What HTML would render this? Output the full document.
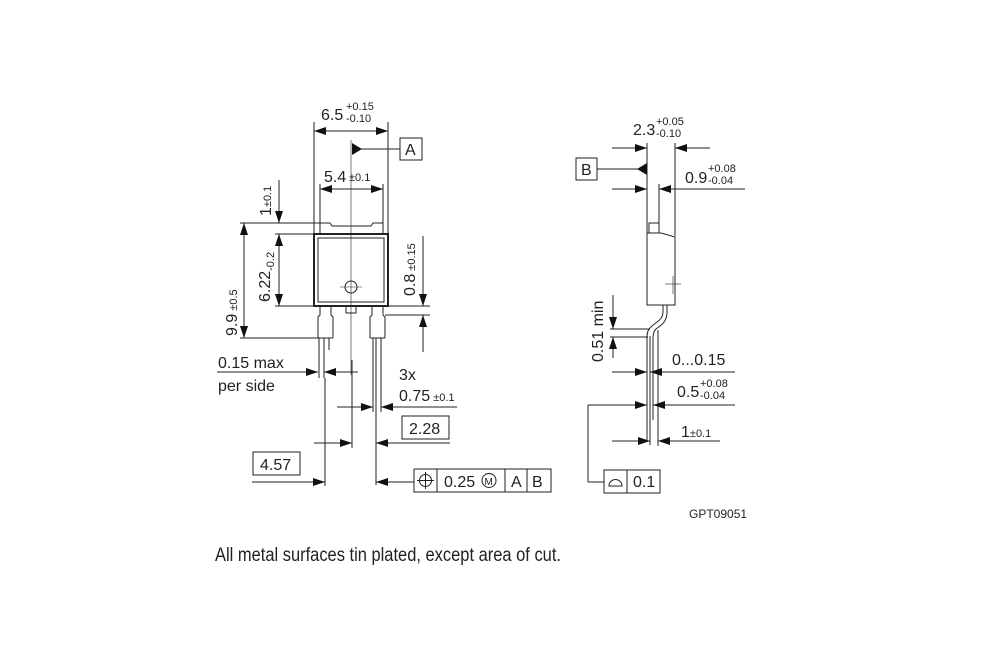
<!DOCTYPE html>
<html><head><meta charset="utf-8"><style>
html,body{margin:0;padding:0;background:#fff;}
svg{display:block;}
text{font-family:"Liberation Sans",Arial,sans-serif;fill:#222;}
</style></head><body>
<svg width="1000" height="646" viewBox="0 0 1000 646" xmlns="http://www.w3.org/2000/svg">
<defs>
<marker id="a" viewBox="0 0 12 8" refX="12" refY="4" markerWidth="12" markerHeight="8" markerUnits="userSpaceOnUse" orient="auto"><path d="M0,0 L12,4 L0,8 Z" fill="#111"/></marker>
</defs>
<g stroke="#222" stroke-width="1" fill="none">
<rect x="314" y="234" width="74" height="72" stroke-width="2"/>
<rect x="318" y="238" width="66" height="64"/>
<path d="M320,234 L320,223 L330,223 L332,226 L371,226 L373,223 L383,223 L383,234"/>
<circle cx="351" cy="287" r="6"/>
<line x1="340" y1="287" x2="362" y2="287" stroke-width="0.6"/>
<line x1="351" y1="140" x2="351" y2="375" stroke-width="0.6"/>
<path d="M320,306 L320,315 L318,317 L318,338 M331,306 L331,315 L333,317 L333,338 M318,338 L333,338"/>
<path d="M319,338 L319,378 M324,338 L324,378 M329,338 L329,350"/>
<path d="M372,306 L372,315 L370,317 L370,338 M383,306 L383,315 L385,317 L385,338 M370,338 L385,338"/>
<path d="M373,338 L373,378 M381,338 L381,378 M376,338 L376,485"/>
<path d="M346,306 L346,313 L356,313 L356,306"/>
<line x1="314" y1="122" x2="314" y2="234"/>
<line x1="388" y1="122" x2="388" y2="234"/>
<line x1="351" y1="131" x2="314" y2="131" marker-end="url(#a)"/>
<line x1="351" y1="131" x2="388" y2="131" marker-end="url(#a)"/>
<line x1="400" y1="149" x2="352" y2="149"/>
<path d="M352,143 L362,149 L352,155 Z" fill="#111" stroke="none"/>
<rect x="400" y="138" width="22" height="22"/>
<line x1="320" y1="184" x2="320" y2="223"/>
<line x1="383" y1="184" x2="383" y2="223"/>
<line x1="351" y1="189" x2="320" y2="189" marker-end="url(#a)"/>
<line x1="351" y1="189" x2="383" y2="189" marker-end="url(#a)"/>
<line x1="240" y1="223" x2="320" y2="223"/>
<line x1="275" y1="234" x2="314" y2="234"/>
<line x1="240" y1="338" x2="318" y2="338"/>
<line x1="279" y1="180" x2="279" y2="223" marker-end="url(#a)"/>
<line x1="279" y1="270" x2="279" y2="234" marker-end="url(#a)"/>
<line x1="279" y1="270" x2="279" y2="306" marker-end="url(#a)"/>
<line x1="275" y1="306" x2="314" y2="306"/>
<line x1="244" y1="280" x2="244" y2="223" marker-end="url(#a)"/>
<line x1="244" y1="280" x2="244" y2="338" marker-end="url(#a)"/>
<line x1="388" y1="306" x2="430" y2="306"/>
<line x1="385" y1="315" x2="430" y2="315"/>
<line x1="423" y1="236" x2="423" y2="306" marker-end="url(#a)"/>
<line x1="423" y1="352" x2="423" y2="315" marker-end="url(#a)"/>
<line x1="217" y1="372" x2="318" y2="372" marker-end="url(#a)"/>
<line x1="358" y1="372" x2="324" y2="372" marker-end="url(#a)"/>
<line x1="337" y1="407" x2="373" y2="407" marker-end="url(#a)"/>
<line x1="457" y1="407" x2="381" y2="407" marker-end="url(#a)"/>
<line x1="373" y1="378" x2="373" y2="412"/>
<line x1="381" y1="378" x2="381" y2="412"/>
<line x1="352" y1="360" x2="352" y2="448"/>
<rect x="402" y="416" width="47" height="23"/>
<line x1="314" y1="443" x2="352" y2="443" marker-end="url(#a)"/>
<line x1="450" y1="443" x2="376" y2="443" marker-end="url(#a)"/>
<line x1="325" y1="378" x2="325" y2="486"/>
<rect x="253" y="452" width="47" height="23"/>
<line x1="252" y1="482" x2="325" y2="482" marker-end="url(#a)"/>
<line x1="414" y1="482" x2="376" y2="482" marker-end="url(#a)"/>
<rect x="414" y="469" width="137" height="23"/>
<line x1="437" y1="469" x2="437" y2="492"/>
<line x1="505" y1="469" x2="505" y2="492"/>
<line x1="527" y1="469" x2="527" y2="492"/>
<circle cx="425.5" cy="480.5" r="6"/>
<line x1="425.5" y1="472" x2="425.5" y2="489"/>
<line x1="417" y1="480.5" x2="434" y2="480.5"/>
<circle cx="489" cy="480.5" r="7"/>

<line x1="647" y1="143" x2="647" y2="233"/>
<line x1="675" y1="143" x2="675" y2="236"/>
<line x1="659" y1="184" x2="659" y2="223"/>
<line x1="612" y1="148" x2="647" y2="148" marker-end="url(#a)"/>
<line x1="710" y1="148" x2="675" y2="148" marker-end="url(#a)"/>
<rect x="576" y="158" width="21" height="22"/>
<line x1="597" y1="169" x2="647" y2="169"/>
<path d="M647,163 L637,169 L647,175 Z" fill="#111" stroke="none"/>
<line x1="612" y1="189" x2="647" y2="189" marker-end="url(#a)"/>
<line x1="745" y1="189" x2="659" y2="189" marker-end="url(#a)"/>
<rect x="649" y="223" width="10" height="10"/>
<path d="M647,233 L661,233 L675,237 L675,305 L647,305 Z"/>
<line x1="665" y1="284" x2="681" y2="284" stroke-width="0.6"/>
<line x1="673" y1="276" x2="673" y2="294" stroke-width="0.6"/>
<path d="M663,305 L663,312 Q663,318 657,322 L652,326 Q647,330 647,336 L647,440"/>
<path d="M667,305 L667,312 Q667,321 660,326 L656,329 Q653,332 653,338 L653,420"/>
<line x1="650" y1="336" x2="650" y2="445"/>
<line x1="658" y1="330" x2="658" y2="446"/>
<line x1="610" y1="329" x2="650" y2="329"/>
<line x1="610" y1="337" x2="648" y2="337"/>
<line x1="613" y1="295" x2="613" y2="329" marker-end="url(#a)"/>
<line x1="613" y1="358" x2="613" y2="337" marker-end="url(#a)"/>
<line x1="612" y1="372" x2="647" y2="372" marker-end="url(#a)"/>
<line x1="735" y1="372" x2="650" y2="372" marker-end="url(#a)"/>
<line x1="588" y1="405" x2="647" y2="405" marker-end="url(#a)"/>
<line x1="735" y1="405" x2="653" y2="405" marker-end="url(#a)"/>
<line x1="588" y1="405" x2="588" y2="482"/>
<line x1="588" y1="482" x2="604" y2="482"/>
<line x1="612" y1="441" x2="650" y2="441" marker-end="url(#a)"/>
<line x1="720" y1="441" x2="658" y2="441" marker-end="url(#a)"/>
<rect x="604" y="470" width="56" height="23"/>
<line x1="627" y1="470" x2="627" y2="493"/>
<path d="M609,486 L622,486 A6.5,6.5 0 0 0 609,486 Z"/>
</g>
<g font-size="16">
<text x="321" y="120">6.5</text>
<text x="346" y="110" font-size="11">+0.15</text>
<text x="346" y="122" font-size="11">-0.10</text>
<text x="405" y="155">A</text>
<text x="324" y="182">5.4</text>
<text x="349" y="181" font-size="11">±0.1</text>
<text transform="translate(271,216) rotate(-90)">1<tspan font-size="11">±0.1</tspan></text>
<text transform="translate(270,302) rotate(-90)">6.22<tspan font-size="11" dy="4">-0.2</tspan></text>
<text transform="translate(237,336) rotate(-90)">9.9<tspan font-size="11"> ±0.5</tspan></text>
<text transform="translate(415,296) rotate(-90)">0.8<tspan font-size="11"> ±0.15</tspan></text>
<text x="218" y="368">0.15 max</text>
<text x="218" y="391">per side</text>
<text x="399" y="380">3x</text>
<text x="399" y="401">0.75<tspan font-size="11"> ±0.1</tspan></text>
<text x="409" y="434">2.28</text>
<text x="260" y="470">4.57</text>
<text x="444" y="487">0.25</text>
<text x="484.5" y="485" font-size="10">M</text>
<text x="511" y="487">A</text>
<text x="532" y="487">B</text>
<text x="633" y="135">2.3</text>
<text x="656" y="125" font-size="11">+0.05</text>
<text x="656" y="137" font-size="11">-0.10</text>
<text x="581" y="175">B</text>
<text x="685" y="183">0.9</text>
<text x="708" y="172" font-size="11">+0.08</text>
<text x="708" y="184" font-size="11">-0.04</text>
<text transform="translate(603,362) rotate(-90)">0.51 min</text>
<text x="672" y="365">0...0.15</text>
<text x="677" y="397">0.5</text>
<text x="700" y="387" font-size="11">+0.08</text>
<text x="700" y="399" font-size="11">-0.04</text>
<text x="681" y="437">1<tspan font-size="11">±0.1</tspan></text>
<text x="633" y="487">0.1</text>
<text x="689" y="518" font-size="12">GPT09051</text>
<text x="215" y="561" font-size="19" textLength="346" lengthAdjust="spacingAndGlyphs">All metal surfaces tin plated, except area of cut.</text>
</g>
</svg>
</body></html>
